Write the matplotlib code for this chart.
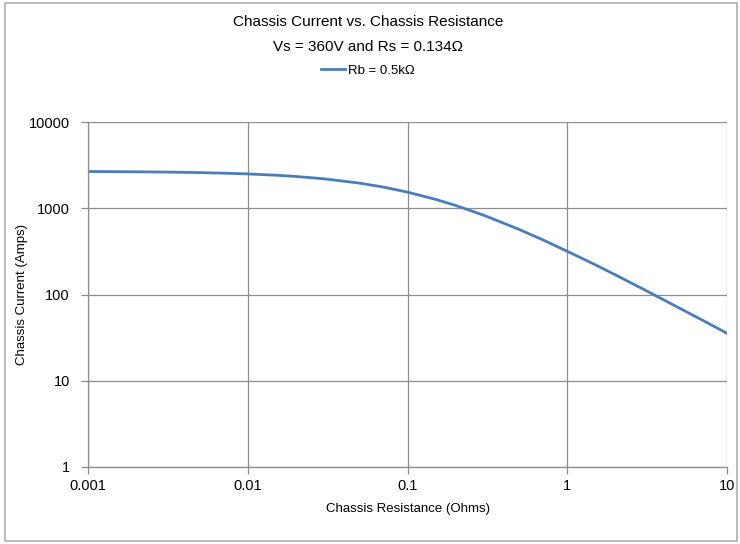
import matplotlib
matplotlib.use("Agg")
import matplotlib.pyplot as plt
from matplotlib.patches import Rectangle

plt.rcParams['font.family'] = ['Liberation Sans', 'DejaVu Sans']

# Chassis resistance (ohms) and the resulting chassis current (amps)
resistance = [0.001, 0.002, 0.003, 0.005, 0.007, 0.01, 0.015, 0.02, 0.03, 0.05,
              0.07, 0.1, 0.15, 0.2, 0.3, 0.5, 0.7, 1.0, 1.5, 2.0, 3.0, 5.0, 7.0, 10.0]
current = [2667, 2647, 2628, 2590, 2553, 2500, 2416, 2336, 2195, 1957,
           1765, 1538, 1268, 1078, 830, 568, 432, 317, 221, 169, 115, 70, 50.5, 35.5]

series_label = "Rb = 0.5k\u03a9"
title_lines = ["Chassis Current vs. Chassis Resistance",
               "Vs = 360V and Rs = 0.134\u03a9"]
x_ticks = [0.001, 0.01, 0.1, 1, 10]
x_tick_labels = ["0.001", "0.01", "0.1", "1", "10"]
y_ticks = [1, 10, 100, 1000, 10000]
y_tick_labels = ["1", "10", "100", "1000", "10000"]

W, H = 740, 544
fig = plt.figure(figsize=(W / 100, H / 100), dpi=100)
fig.patch.set_facecolor("white")

# chart-area border
fig.patches.append(Rectangle((5 / W, 3 / H), (W - 8) / W, (H - 6) / H,
                             transform=fig.transFigure, fill=False,
                             edgecolor="#b0b0b0", linewidth=1.2))

left, right, top, bottom = 88, 727, 122, 467
ax = fig.add_axes([left / W, 1 - bottom / H, (right - left) / W, (bottom - top) / H])

grid_col = "#8c8c8c"
line, = ax.plot(resistance, current, color="#4a7ebb", linewidth=2.0, label=series_label)

ax.set_xscale("log")
ax.set_yscale("log")
ax.set_xlim(0.001, 10)
ax.set_ylim(1, 10000)
ax.set_xticks(x_ticks)
ax.set_xticklabels(x_tick_labels)
ax.set_yticks(y_ticks)
ax.set_yticklabels(y_tick_labels)
ax.minorticks_off()
ax.grid(True, which="major", color=grid_col, linewidth=0.9)
ax.set_axisbelow(True)

for side in ("top", "right"):
    ax.spines[side].set_visible(False)
for side in ("left", "bottom"):
    ax.spines[side].set_color(grid_col)
    ax.spines[side].set_linewidth(0.9)

ax.tick_params(axis="both", which="major", direction="out", length=5,
               width=0.9, color=grid_col, labelsize=10.5, labelcolor="black")
ax.tick_params(axis="x", pad=4)
ax.tick_params(axis="y", pad=8)

ax.set_xlabel("Chassis Resistance (Ohms)", fontsize=9.5, labelpad=7)
ax.set_ylabel("Chassis Current (Amps)", fontsize=9.5, va="center")
ax.yaxis.set_label_coords((22 - left) / (right - left), 0.5)

cx = 368 / W
fig.text(cx, 1 - 22 / H, title_lines[0], ha="center", va="center", fontsize=11)
fig.text(cx, 1 - 47 / H, title_lines[1], ha="center", va="center", fontsize=11)

fig.legend(handles=[line], loc="center", bbox_to_anchor=(cx, 1 - 71 / H),
           frameon=False, fontsize=9.5, handlelength=1.8, handletextpad=0.3)

fig.savefig("out.png", dpi=100)
